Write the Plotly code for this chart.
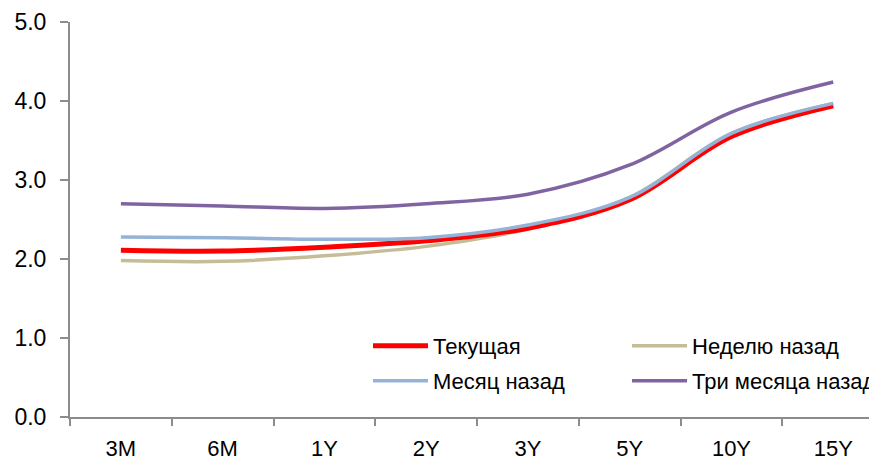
import plotly.graph_objects as go

categories = ["3M", "6M", "1Y", "2Y", "3Y", "5Y", "10Y", "15Y"]
current = [2.11, 2.10, 2.15, 2.23, 2.39, 2.75, 3.55, 3.94]
week_ago = [1.98, 1.97, 2.04, 2.16, 2.38, 2.78, 3.59, 3.97]
month_ago = [2.28, 2.27, 2.25, 2.27, 2.43, 2.78, 3.59, 3.97]
three_months_ago = [2.70, 2.67, 2.64, 2.70, 2.82, 3.19, 3.86, 4.24]
y_ticks = [0, 1, 2, 3, 4, 5]

FONT = "Liberation Sans, Arial, sans-serif"

# page is rendered with an 8px body margin; figure coordinates compensate for it
W, H = 869, 455
ML, MT, MB, MR = 62, 14, 46, 0
PW, PH = W - ML - MR, H - MT - MB

fig = go.Figure()
fig.add_trace(go.Scatter(x=categories, y=week_ago, name="Неделю назад", mode="lines",
                         line=dict(color="#C4BD97", width=3.5, shape="spline", smoothing=1),
                         legend="legend2"))
fig.add_trace(go.Scatter(x=categories, y=current, name="Текущая", mode="lines",
                         line=dict(color="#FF0000", width=5, shape="spline", smoothing=1),
                         legend="legend"))
fig.add_trace(go.Scatter(x=categories, y=month_ago, name="Месяц назад", mode="lines",
                         line=dict(color="#95B3D7", width=3.5, shape="spline", smoothing=1),
                         legend="legend3"))
fig.add_trace(go.Scatter(x=categories, y=three_months_ago, name="Три месяца назад", mode="lines",
                         line=dict(color="#8064A2", width=3.5, shape="spline", smoothing=1),
                         legend="legend4"))


def leg(px_x, px_y):
    return dict(x=(px_x - ML) / PW, y=(H - MB - px_y) / PH,
                font=dict(family=FONT, size=22, color="#000"), bgcolor="rgba(0,0,0,0)",
                orientation="v", xanchor="left", yanchor="top", itemwidth=55)


fig.update_layout(
    width=W, height=H,
    margin=dict(l=ML, r=MR, t=MT, b=MB, autoexpand=False),
    paper_bgcolor="white", plot_bgcolor="white",
    font=dict(family=FONT, size=22, color="#000"),
    showlegend=True,
    legend=leg(360, 317),
    legend2=leg(619, 317),
    legend3=leg(360, 352),
    legend4=leg(619, 352),
    xaxis=dict(type="category", range=[-0.5, 7.43], showline=True, linecolor="#8c8c8c", linewidth=2,
               ticks="outside", ticklen=7, tickwidth=2, tickcolor="#8c8c8c", tickson="boundaries",
               showgrid=False, zeroline=False, ticklabelstandoff=11, automargin=False,
               tickfont=dict(family=FONT, size=22, color="#000")),
    yaxis=dict(range=[0, 5], tickvals=y_ticks, tickformat=".1f", showline=True, linecolor="#8c8c8c",
               linewidth=2, ticks="outside", ticklen=8, tickwidth=2, tickcolor="#8c8c8c",
               showgrid=False, zeroline=False, ticklabelstandoff=9, automargin=False,
               tickfont=dict(family=FONT, size=23, color="#000")),
)

fig.write_html("out.html")
